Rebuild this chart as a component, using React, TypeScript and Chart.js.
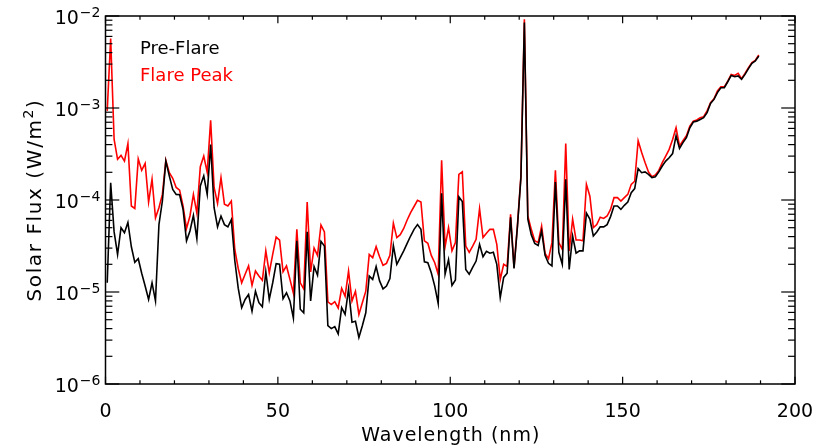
import React, { useEffect, useRef } from 'react';
import { Chart, registerables } from 'chart.js';

Chart.register(...registerables);

// 1 nm bins, first bin centred at 0.5 nm
const WAVELENGTH_START = 0.5;
const BIN_WIDTH = 1;

const PRE_FLARE: number[] = [
  1.26e-5, 1.54e-4, 4.5e-5, 2.56e-5, 5.0e-5, 4.4e-5, 5.7e-5, 3.1e-5, 2.1e-5, 2.3e-5,
  1.6e-5, 1.16e-5, 8.3e-6, 1.26e-5, 8.0e-6, 5.4e-5, 9.75e-5, 2.65e-4, 1.83e-4, 1.3e-4,
  1.15e-4, 1.14e-4, 7.9e-5, 3.6e-5, 4.6e-5, 6.8e-5, 3.8e-5, 1.42e-4, 1.83e-4, 1.15e-4,
  4.0e-4, 8.25e-5, 5.1e-5, 6.7e-5, 5.4e-5, 5.1e-5, 6.1e-5, 2.2e-5, 1.1e-5, 6.75e-6,
  8.3e-6, 9.4e-6, 6.2e-6, 1.02e-5, 7.65e-6, 6.9e-6, 1.66e-5, 8.3e-6, 1.26e-5, 2.03e-5,
  2.0e-5, 8.45e-6, 9.8e-6, 8.0e-6, 5.2e-6, 3.6e-5, 6.5e-6, 5.95e-6, 4.5e-5, 8.0e-6,
  1.89e-5, 1.52e-5, 3.55e-5, 3.16e-5, 4.3e-6, 4.0e-6, 4.2e-6, 3.5e-6, 6.75e-6, 5.7e-6,
  1.08e-5, 4.7e-6, 4.8e-6, 3.2e-6, 4.3e-6, 5.95e-6, 1.49e-5, 1.37e-5, 1.89e-5, 1.32e-5,
  1.08e-5, 1.16e-5, 1.4e-5, 3.2e-5, 2.0e-5, 2.36e-5, 2.8e-5, 3.38e-5, 4.06e-5, 4.8e-5,
  5.4e-5, 4.8e-5, 2.13e-5, 2.08e-5, 1.62e-5, 1.16e-5, 7.5e-6, 1.18e-4, 1.56e-5, 2.25e-5,
  1.18e-5, 1.35e-5, 1.08e-4, 9.6e-5, 1.76e-5, 1.56e-5, 1.85e-5, 2.17e-5, 3.3e-5, 2.42e-5,
  2.77e-5, 2.64e-5, 2.7e-5, 2.0e-5, 8.7e-6, 1.44e-5, 1.6e-5, 6.5e-5, 1.8e-5, 5.2e-5,
  1.75e-4, 8.5e-3, 6.2e-5, 4.2e-5, 3.38e-5, 3.2e-5, 4.6e-5, 2.5e-5, 2.05e-5, 1.92e-5,
  1.57e-4, 2.7e-5, 2.0e-5, 1.68e-4, 1.76e-5, 4.06e-5, 2.64e-5, 2.8e-5, 2.8e-5, 7.2e-5,
  6.2e-5, 4.06e-5, 4.5e-5, 5.1e-5, 5.1e-5, 5.4e-5, 6.6e-5, 8.6e-5, 8.6e-5, 7.9e-5,
  8.75e-5, 9.5e-5, 1.2e-4, 1.33e-4, 2.2e-4, 1.98e-4, 2.02e-4, 1.9e-4, 1.75e-4, 1.79e-4,
  2.02e-4, 2.34e-4, 2.65e-4, 2.88e-4, 3.2e-4, 5.0e-4, 3.64e-4, 4.2e-4, 4.75e-4, 6.1e-4,
  7.05e-4, 7.2e-4, 7.5e-4, 7.85e-4, 8.9e-4, 1.12e-3, 1.24e-3, 1.47e-3, 1.66e-3, 1.66e-3,
  1.93e-3, 2.26e-3, 2.19e-3, 2.23e-3, 2.05e-3, 2.32e-3, 2.68e-3, 3.06e-3, 3.24e-3, 3.67e-3,
];

const FLARE_PEAK: number[] = [
  9.3e-4, 5.7e-3, 4.55e-4, 2.77e-4, 3.05e-4, 2.65e-4, 4.1e-4, 8.6e-5, 8.1e-5, 2.8e-4,
  2.1e-4, 2.5e-4, 9.5e-5, 1.68e-4, 6.4e-5, 8.25e-5, 1.15e-4, 2.7e-4, 1.98e-4, 1.72e-4,
  1.37e-4, 1.28e-4, 8.6e-5, 4.9e-5, 6.7e-5, 1.15e-4, 7.2e-5, 2.3e-4, 3.0e-4, 2.0e-4,
  7.35e-4, 1.37e-4, 9.2e-5, 1.75e-4, 9.0e-5, 8.6e-5, 9.75e-5, 2.9e-5, 1.8e-5, 1.26e-5,
  1.56e-5, 1.92e-5, 1.18e-5, 1.69e-5, 1.49e-5, 1.34e-5, 2.8e-5, 1.62e-5, 2.56e-5, 3.95e-5,
  3.67e-5, 1.66e-5, 1.92e-5, 1.37e-5, 9.7e-6, 4.8e-5, 1.26e-5, 1.08e-5, 9.5e-5, 1.65e-5,
  3.0e-5, 2.5e-5, 5.35e-5, 4.5e-5, 7.8e-6, 7.3e-6, 7.85e-6, 6.7e-6, 1.1e-5, 9.0e-6,
  1.69e-5, 8.0e-6, 1.02e-5, 5.7e-6, 7.65e-6, 1.02e-5, 2.56e-5, 2.36e-5, 3.11e-5, 2.42e-5,
  1.95e-5, 2.05e-5, 2.5e-5, 5.6e-5, 3.9e-5, 4.2e-5, 4.9e-5, 6.06e-5, 7.3e-5, 8.5e-5,
  9.9e-5, 9.5e-5, 3.6e-5, 3.38e-5, 2.5e-5, 2.08e-5, 1.56e-5, 2.7e-4, 3.11e-5, 5.0e-5,
  2.8e-5, 3.44e-5, 1.9e-4, 2.03e-4, 3.16e-5, 2.7e-5, 3.16e-5, 3.74e-5, 8.05e-5, 3.9e-5,
  4.34e-5, 4.8e-5, 4.8e-5, 3.3e-5, 1.37e-5, 2.0e-5, 1.9e-5, 7.0e-5, 1.84e-5, 5.4e-5,
  1.83e-4, 9.2e-3, 6.7e-5, 4.8e-5, 3.6e-5, 3.44e-5, 5.2e-5, 2.63e-5, 2.3e-5, 3.44e-5,
  2.1e-4, 3.44e-5, 2.9e-5, 4.1e-4, 2.8e-5, 6.2e-5, 3.67e-5, 3.67e-5, 3.6e-5, 1.48e-4,
  1.1e-4, 5.0e-5, 5.4e-5, 6.5e-5, 6.3e-5, 6.7e-5, 7.9e-5, 1.06e-4, 1.06e-4, 9.75e-5,
  1.06e-4, 1.15e-4, 1.48e-4, 1.6e-4, 4.4e-4, 3.3e-4, 2.55e-4, 2.02e-4, 1.79e-4, 1.87e-4,
  2.1e-4, 2.55e-4, 3.0e-4, 3.55e-4, 4.55e-4, 6.1e-4, 3.86e-4, 4.4e-4, 5.0e-4, 6.37e-4,
  7.2e-4, 7.4e-4, 7.85e-4, 8.05e-4, 9.3e-4, 1.14e-3, 1.26e-3, 1.53e-3, 1.7e-3, 1.7e-3,
  1.96e-3, 2.32e-3, 2.26e-3, 2.38e-3, 2.08e-3, 2.38e-3, 2.75e-3, 3.11e-3, 3.3e-3, 3.77e-3,
];

const X_MIN = 0;
const X_MAX = 200;
const X_MAJOR_TICKS = [0, 50, 100, 150, 200];
const X_MINOR_STEP = 10;
const Y_MIN = 1e-6;
const Y_MAX = 1e-2;
const Y_EXPONENTS = [-6, -5, -4, -3, -2];
const SERIES_LABELS = ['Pre-Flare', 'Flare Peak'];
const SERIES_COLORS = ['#000000', '#ff0000'];
const X_TITLE = 'Wavelength (nm)';
const Y_TITLE = 'Solar Flux (W/m';
const FONT = '"DejaVu Sans", sans-serif';

const toPoints = (vals: number[]) =>
  vals.map((v, i) => ({ x: WAVELENGTH_START + i * BIN_WIDTH, y: v }));

const framePlugin = {
  id: 'idlFrame',
  afterDatasetsDraw(chart: any) {
    const { ctx, chartArea: a, scales } = chart;
    const xs = scales.x;
    const ys = scales.y;
    const w = a.right - a.left;
    const h = a.bottom - a.top;
    ctx.save();
    ctx.strokeStyle = '#000';
    ctx.lineWidth = 1.5;
    ctx.strokeRect(a.left, a.top, w, h);
    ctx.lineWidth = 1.2;
    const seg = (x1: number, y1: number, x2: number, y2: number) => {
      ctx.beginPath();
      ctx.moveTo(x1, y1);
      ctx.lineTo(x2, y2);
      ctx.stroke();
    };
    // x ticks (bottom and top, inward)
    for (let v = X_MIN; v <= X_MAX; v += X_MINOR_STEP) {
      const px = xs.getPixelForValue(v);
      const len = X_MAJOR_TICKS.includes(v) ? 0.02 * h : 0.01 * h;
      seg(px, a.bottom, px, a.bottom - len);
      seg(px, a.top, px, a.top + len);
    }
    // y ticks (left and right, inward)
    for (const e of Y_EXPONENTS) {
      for (let m = 1; m <= 9; m++) {
        const v = m * Math.pow(10, e);
        if (v > Y_MAX * 1.0001) break;
        const py = ys.getPixelForValue(v);
        const len = m === 1 ? 0.02 * w : 0.01 * w;
        seg(a.left, py, a.left + len, py);
        seg(a.right, py, a.right - len, py);
      }
    }
    // x tick labels
    ctx.fillStyle = '#000';
    ctx.font = `19px ${FONT}`;
    ctx.textAlign = 'center';
    ctx.textBaseline = 'alphabetic';
    for (const v of X_MAJOR_TICKS) {
      ctx.fillText(String(v), xs.getPixelForValue(v), 417);
    }
    // x title
    ctx.letterSpacing = '1px';
    ctx.fillText(X_TITLE, (a.left + a.right) / 2 + 0.5, 441);
    ctx.letterSpacing = '0px';
    // y tick labels
    for (const e of Y_EXPONENTS) {
      const py = ys.getPixelForValue(Math.pow(10, e));
      const sup = '\u2212' + String(-e);
      ctx.font = `14px ${FONT}`;
      const supW = ctx.measureText(sup).width;
      const supRight = a.left - 5;
      ctx.textAlign = 'left';
      ctx.fillText(sup, supRight - supW, py + 1);
      ctx.font = `19px ${FONT}`;
      ctx.textAlign = 'right';
      ctx.fillText('10', supRight - supW - 1, py + 8);
    }
    // y title (rotated)
    ctx.save();
    ctx.translate(41, (a.top + a.bottom) / 2);
    ctx.rotate(-Math.PI / 2);
    ctx.letterSpacing = '1.6px';
    ctx.font = `20px ${FONT}`;
    const mainW = ctx.measureText(Y_TITLE).width;
    ctx.font = `14px ${FONT}`;
    const sW = ctx.measureText('2').width;
    ctx.font = `20px ${FONT}`;
    const closeW = ctx.measureText(')').width;
    const total = mainW + sW + closeW;
    let cx = -total / 2;
    ctx.textAlign = 'left';
    ctx.fillText(Y_TITLE, cx, 0);
    cx += mainW;
    ctx.font = `14px ${FONT}`;
    ctx.fillText('2', cx, -8);
    cx += sW;
    ctx.font = `20px ${FONT}`;
    ctx.fillText(')', cx, 0);
    ctx.letterSpacing = '0px';
    ctx.restore();
    // legend (text only)
    ctx.font = `18px ${FONT}`;
    ctx.textAlign = 'left';
    ctx.fillStyle = SERIES_COLORS[0];
    ctx.fillText(SERIES_LABELS[0], 140, 54);
    ctx.fillStyle = SERIES_COLORS[1];
    ctx.fillText(SERIES_LABELS[1], 140, 81);
    ctx.restore();
  },
};

export default function App() {
  const canvasRef = useRef<HTMLCanvasElement | null>(null);

  useEffect(() => {
    const canvas = canvasRef.current;
    if (!canvas) return;
    const chart = new Chart(canvas, {
      type: 'line',
      data: {
        datasets: [
          {
            label: SERIES_LABELS[0],
            data: toPoints(PRE_FLARE),
            borderColor: SERIES_COLORS[0],
            borderWidth: 1.6,
            pointRadius: 0,
            tension: 0,
            fill: false,
          },
          {
            label: SERIES_LABELS[1],
            data: toPoints(FLARE_PEAK),
            borderColor: SERIES_COLORS[1],
            borderWidth: 1.6,
            pointRadius: 0,
            tension: 0,
            fill: false,
          },
        ],
      },
      options: {
        responsive: false,
        animation: false,
        devicePixelRatio: 1,
        layout: { padding: { top: 16, right: 20, left: 0, bottom: 0 } },
        plugins: { legend: { display: false }, tooltip: { enabled: false } },
        scales: {
          x: {
            type: 'linear',
            min: X_MIN,
            max: X_MAX,
            grid: { display: false },
            border: { display: false },
            ticks: { display: false },
            afterFit: (s: any) => {
              s.height = 62;
            },
          },
          y: {
            type: 'logarithmic',
            min: Y_MIN,
            max: Y_MAX,
            grid: { display: false },
            border: { display: false },
            ticks: { display: false },
            afterFit: (s: any) => {
              s.width = 105.5;
            },
          },
        },
      },
      plugins: [framePlugin],
    });
    return () => chart.destroy();
  }, []);

  return (
    <div style={{ position: 'fixed', left: 0, top: 0, width: 815, height: 446, background: '#fff' }}>
      <canvas ref={canvasRef} width={815} height={446} />
    </div>
  );
}
